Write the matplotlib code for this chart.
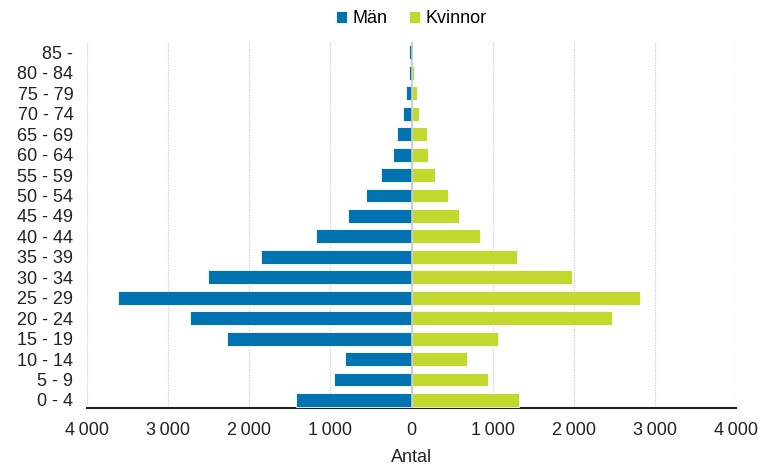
import matplotlib
matplotlib.use("Agg")
from matplotlib import pyplot as plt
from matplotlib.ticker import FuncFormatter
import numpy as np

plt.rcParams['font.family'] = ['Liberation Sans', 'DejaVu Sans']

# Åldersgrupper (nerifrån och upp)
age_groups = ["0 - 4", "5 - 9", "10 - 14", "15 - 19", "20 - 24", "25 - 29", "30 - 34",
              "35 - 39", "40 - 44", "45 - 49", "50 - 54", "55 - 59", "60 - 64",
              "65 - 69", "70 - 74", "75 - 79", "80 - 84", "85 -"]
man = [1420, 960, 819, 2270, 2730, 3615, 2509, 1858, 1181, 779, 566, 380, 223,
       182, 109, 73, 28, 28]
kvinnor = [1323, 942, 686, 1062, 2473, 2814, 1978, 1301, 850, 588, 447, 290, 206,
           190, 89, 69, 32, 5]

blue = "#0073b0"
green = "#c3d82e"

fig, ax = plt.subplots(figsize=(7.65, 4.68), dpi=100)
fig.subplots_adjust(left=0.114, right=0.962, top=0.91, bottom=0.128)

y = np.arange(len(age_groups))
ax.barh(y, -np.array(man), height=0.68, color=blue, edgecolor="white", linewidth=0.6, label="Män", zorder=3)
ax.barh(y, kvinnor, height=0.68, color=green, edgecolor="white", linewidth=0.6, label="Kvinnor", zorder=3)

ax.set_xlim(-4000, 4000)
ax.set_ylim(-0.4, 17.5)
ax.set_xticks(np.arange(-4000, 4001, 1000))
ax.xaxis.set_major_formatter(FuncFormatter(lambda v, p: f"{abs(int(v)):,}".replace(",", "\u2009")))
ax.set_yticks(y)
ax.set_yticklabels(age_groups)
ax.tick_params(axis="both", length=0, labelsize=13, colors="#222222")
ax.tick_params(axis="x", pad=10)
ax.tick_params(axis="y", pad=10)

ax.grid(axis="x", color="#cccccc", linestyle=(0, (1, 1)), linewidth=0.9, zorder=0)
ax.axvline(0, color="#c8c8c8", linewidth=1.2, zorder=4)
for s in ["top", "right", "left"]:
    ax.spines[s].set_visible(False)
ax.spines["bottom"].set_color("#222222")
ax.spines["bottom"].set_linewidth(1.5)

ax.set_xlabel("Antal", fontsize=13, color="#222222", labelpad=7)

ax.legend(loc="lower center", bbox_to_anchor=(0.5, 1.04), ncol=2, frameon=False,
          fontsize=13, handlelength=0.6, handleheight=0.6, handletextpad=0.3,
          columnspacing=1.2, borderaxespad=0.0, borderpad=0.0)

plt.savefig("out.png")
